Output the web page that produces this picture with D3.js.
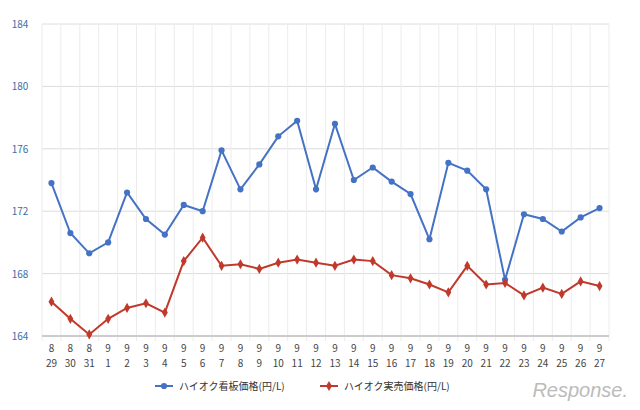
<!DOCTYPE html>
<html><head><meta charset="utf-8">
<script src="https://cdn.jsdelivr.net/npm/d3@7"></script>
<style>body{margin:0;background:#fff;font-family:"Noto Sans CJK JP","Noto Sans",sans-serif}</style>
</head><body><svg id="c" width="640" height="410"></svg>
<script>
const months = ['8','8','8','9','9','9','9','9','9','9','9','9','9','9','9','9','9','9','9','9','9','9','9','9','9','9','9','9','9','9'];
const days = ['29','30','31','1','2','3','4','5','6','7','8','9','10','11','12','13','14','15','16','17','18','19','20','21','22','23','24','25','26','27'];
const signPrice = [173.8,170.6,169.3,170.0,173.2,171.5,170.5,172.4,172.0,175.9,173.4,175.0,176.8,177.8,173.4,177.6,174.0,174.8,173.9,173.1,170.2,175.1,174.6,173.4,167.6,171.8,171.5,170.7,171.6,172.2];
const salePrice = [166.2,165.1,164.1,165.1,165.8,166.1,165.5,168.8,170.3,168.5,168.6,168.3,168.7,168.9,168.7,168.5,168.9,168.8,167.9,167.7,167.3,166.8,168.5,167.3,167.4,166.6,167.1,166.7,167.5,167.2];
const yTicks = [164,168,172,176,180,184];

const svg = d3.select('#c');
const m = { left: 42, right: 609, top: 24, bottom: 336 };
const x = d3.scaleBand().domain(days.map((d, i) => i)).range([m.left, m.right]);
const y = d3.scaleLinear().domain([164, 184]).range([m.bottom, m.top]);
const cx = i => x(i) + x.bandwidth() / 2;

// grid
svg.append('g').selectAll('line').data(yTicks).join('line')
  .attr('x1', m.left).attr('x2', m.right).attr('y1', d => y(d)).attr('y2', d => y(d))
  .attr('stroke', '#dcdcdc');
svg.append('g').selectAll('line').data(d3.range(days.length + 1)).join('line')
  .attr('x1', i => m.left + i * x.step()).attr('x2', i => m.left + i * x.step())
  .attr('y1', m.top).attr('y2', m.bottom + 5).attr('stroke', '#ececec');
svg.append('line').attr('x1', m.left).attr('x2', m.right).attr('y1', m.bottom).attr('y2', m.bottom).attr('stroke', '#aaa');

svg.append('g').selectAll('text').data(yTicks).join('text')
  .attr('x', 20).attr('y', d => y(d) + 4).attr('text-anchor', 'middle')
  .attr('font-size', 10).attr('fill', '#3d6ea8').text(d => d);

const xl = svg.append('g').selectAll('g').data(days).join('g');
xl.append('text').attr('x', (d, i) => cx(i)).attr('y', 352).attr('text-anchor', 'middle')
  .attr('font-size', 10).attr('fill', '#444').text((d, i) => months[i]);
xl.append('text').attr('x', (d, i) => cx(i)).attr('y', 367).attr('text-anchor', 'middle')
  .attr('font-size', 10).attr('fill', '#444').text(d => d);

const line = d3.line().x((d, i) => cx(i)).y(d => y(d));
const series = [
  { vals: signPrice, color: '#4472c4', shape: d3.symbolCircle, size: 30 },
  { vals: salePrice, color: '#c0392b', shape: d3.symbolDiamond, size: 30 }
];
series.forEach(s => {
  svg.append('path').datum(s.vals).attr('d', line).attr('fill', 'none')
    .attr('stroke', s.color).attr('stroke-width', 2);
  svg.append('g').selectAll('path').data(s.vals).join('path')
    .attr('transform', (d, i) => `translate(${cx(i)},${y(d)})`)
    .attr('d', d3.symbol(s.shape, s.size)).attr('fill', s.color);
});

// legend
const legend = [
  { label: 'ハイオク看板価格(円/L)', x: 155, s: series[0] },
  { label: 'ハイオク実売価格(円/L)', x: 320, s: series[1] }
];
legend.forEach(l => {
  svg.append('line').attr('x1', l.x).attr('x2', l.x + 18).attr('y1', 386).attr('y2', 386)
    .attr('stroke', l.s.color).attr('stroke-width', 2);
  svg.append('path').attr('transform', `translate(${l.x + 9},386)`)
    .attr('d', d3.symbol(l.s.shape, l.s.size)).attr('fill', l.s.color);
  svg.append('text').attr('x', l.x + 24).attr('y', 390).attr('font-size', 10)
    .attr('fill', '#333').text(l.label);
});

svg.append('text').attr('x', 628).attr('y', 397).attr('text-anchor', 'end')
  .attr('font-size', 20).attr('font-style', 'italic').attr('fill', '#bbb')
  .attr('font-family', 'Arial, Liberation Sans').text('Response.');
</script></body></html>
